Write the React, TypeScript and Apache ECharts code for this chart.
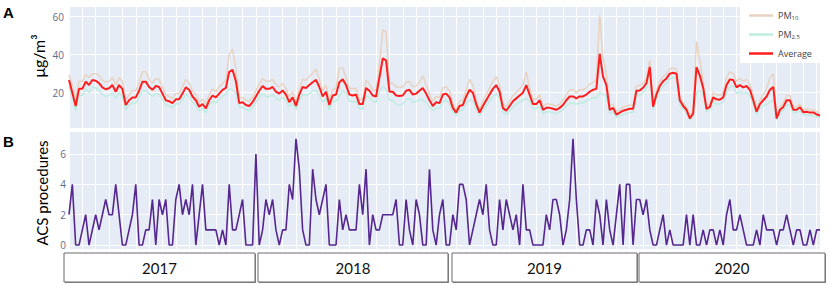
import React, { useEffect, useRef } from 'react';
import * as echarts from 'echarts';

const average = [
  26.7, 20, 13, 22, 22, 25.8, 24, 26.7, 26.3, 25, 22.8, 21.8, 22.3, 24, 20.5, 24, 22, 13.5, 16, 17.5,
  17.5, 21, 25.8, 25.8, 23, 21.5, 23.5, 23, 19.5, 16, 15.5, 14.5, 16.5, 16.5, 19.5, 22.8, 21.5, 18, 16, 12.6,
  14, 11.7, 16, 18.5, 17.5, 19.5, 21.5, 22.5, 31, 32, 26, 14.5, 15, 13.5, 13, 15, 18, 21, 23.5, 22,
  22, 23, 20.5, 19.5, 21.2, 19, 15, 17.5, 13, 19, 23, 22.5, 24, 25.5, 26.7, 23, 18, 20.5, 13.5, 18.5,
  19, 25.5, 27, 24, 19, 18.5, 19, 14, 14, 22.5, 21, 18.5, 18, 28, 38, 37, 20.5, 20.5, 18.5, 18.3,
  18.5, 21, 21.5, 19, 19.5, 21, 22.5, 19.5, 16, 13, 15, 14.5, 19, 19.5, 17.5, 12, 9.5, 13, 13.5, 18,
  21.5, 20, 14, 9.5, 13, 16, 19, 22, 24, 20.5, 12, 10.5, 13, 15.5, 17, 18.5, 20, 24, 19, 14,
  14, 16, 11, 12, 12, 11.5, 11, 12, 13.5, 16, 18, 18, 17, 18, 18, 19, 20.5, 21.5, 22, 40.5,
  28.5, 24, 11, 12, 8.5, 9.5, 10.5, 11, 11.5, 11.5, 21, 21.2, 22.6, 25, 33.5, 12.6, 19, 23.5, 26, 27.5,
  30, 30.5, 30, 16, 13, 11, 6.5, 9, 33.5, 29, 22.5, 11.5, 12.5, 17.5, 16.5, 16.3, 17.5, 24, 27, 26.7,
  22.8, 24, 22.8, 23.5, 21.5, 16, 10, 14, 16, 18, 21.5, 23, 6.5, 11, 12.5, 16, 16, 11, 11, 12.3,
  9.7, 10, 9.5, 9.6, 8.5, 8,
];

const pm10 = [
  29.5, 24, 17, 26, 26, 29.5, 28, 30, 30, 29, 26.5, 25.5, 26, 28, 24, 28, 26, 16, 19, 21,
  21, 25, 31, 31, 27, 25, 27.5, 27, 23, 19, 18, 17, 19.5, 19.5, 23, 27, 25, 21, 19, 15,
  16.5, 14, 19, 22, 20.5, 23, 25, 26.5, 40, 43, 32, 17, 17.5, 16, 15.5, 17.5, 21, 24.5, 27.5, 26,
  26, 27, 24, 23, 25, 22, 17.5, 20.5, 15, 22, 27, 26.5, 28.5, 30, 32.5, 27, 21, 24, 16, 21.5,
  22.5, 33, 33, 28, 22.5, 22, 22.5, 16.5, 16.5, 26.5, 24.5, 21.5, 21, 35, 53, 52, 25, 25, 23, 23,
  23, 25.5, 26, 23, 23.5, 25.5, 29, 24, 19.5, 15.5, 18, 17.5, 22.5, 23, 21, 14, 11, 15.5, 16, 21.5,
  27, 24, 16.5, 11, 15.5, 19, 22.5, 26, 28.5, 24, 14, 12.5, 15.5, 18.5, 20, 22, 24, 31, 22.5, 16.5,
  16.5, 19, 13, 14, 14, 13.5, 13, 14, 16, 19, 21.5, 21.5, 20, 21.5, 21.5, 22.5, 24.5, 25.5, 27, 61,
  38, 30, 13, 14, 10, 11, 12.5, 13, 13.5, 13.5, 23.5, 24, 25, 27.5, 37, 14, 21, 26, 28.5, 30,
  32.5, 33, 32.5, 18, 14.5, 12.5, 7.5, 10.5, 47, 37, 26, 13, 14, 20, 19, 18.5, 20, 28, 31, 30,
  26, 27.5, 26, 27, 24.5, 18.5, 11.5, 16, 19, 22, 28, 30, 7.5, 12.5, 14.5, 18.5, 18.5, 12.5, 12.5, 14,
  11, 11.5, 11, 11, 10, 9,
];

const pm25 = [
  23.5, 17, 10.5, 18.5, 18.5, 22, 20, 23, 22.5, 21, 19, 18, 18.5, 20, 17, 20, 18, 11, 13.5, 14.5,
  14.5, 17.5, 21, 21, 19.5, 18, 19.5, 19, 16.5, 13.5, 13, 12, 14, 14, 16.5, 19, 18, 15, 13.5, 10.5,
  11.5, 9.5, 13.5, 15.5, 14.5, 16.5, 18, 19, 22, 21.5, 20, 12, 12.5, 11, 10.5, 12.5, 15, 17.5, 19.5, 18,
  18, 19, 17, 16, 17.5, 16, 12.5, 14.5, 11, 16, 19, 18.5, 19.5, 21, 21, 19, 15, 17, 11, 15.5,
  15.5, 18, 21, 20, 15.5, 15, 15.5, 11.5, 11.5, 18.5, 17.5, 15.5, 15, 21, 23, 22, 16, 16, 14, 13.5,
  14, 16.5, 17, 15, 15.5, 16.5, 16, 15, 12.5, 10.5, 12, 11.5, 15.5, 16, 14, 10, 8, 10.5, 11, 14.5,
  16, 16, 11.5, 8, 10.5, 13, 15.5, 18, 19.5, 17, 10, 8.5, 10.5, 12.5, 14, 15, 16, 17, 15.5, 11.5,
  11.5, 13, 9, 10, 10, 9.5, 9, 10, 11, 13, 14.5, 14.5, 14, 14.5, 14.5, 15.5, 16.5, 17.5, 17, 20,
  19, 18, 9, 10, 7, 8, 8.5, 9, 9.5, 9.5, 18.5, 18.5, 20, 22.5, 30, 11, 17, 21, 23.5, 25,
  27.5, 28, 27.5, 14, 11.5, 9.5, 5.5, 7.5, 20, 21, 19, 10, 11, 15, 14, 14, 15, 20, 23, 23.5,
  19.5, 20.5, 19.5, 20, 18.5, 13.5, 8.5, 12, 13, 14, 15, 16, 5.5, 9.5, 10.5, 13.5, 13.5, 9.5, 9.5, 10.5,
  8.5, 8.5, 8, 8, 7, 7,
];

const acs = [
  2, 4, 0, 0, 1, 2, 0, 1, 2, 1, 2, 3, 2, 2, 4, 2, 0, 0, 1, 2,
  4, 0, 0, 1, 1, 3, 0, 3, 2, 3, 0, 0, 3, 4, 2, 3, 2, 4, 0, 2,
  4, 1, 1, 1, 1, 0, 1, 0, 4, 1, 1, 2, 3, 0, 0, 0, 6, 0, 1, 3,
  2, 3, 1, 0, 1, 1, 4, 3, 7, 5, 1, 0, 0, 5, 3, 2, 3, 4, 0, 0,
  0, 3, 1, 2, 1, 1, 1, 4, 2, 5, 0, 2, 1, 1, 2, 2, 2, 2, 3, 0,
  0, 3, 1, 0, 3, 2, 0, 0, 5, 1, 0, 2, 3, 0, 0, 2, 1, 4, 4, 3,
  0, 1, 2, 3, 2, 4, 1, 0, 0, 3, 1, 3, 2, 1, 2, 0, 4, 1, 1, 0,
  0, 0, 0, 2, 1, 3, 3, 2, 0, 1, 3, 7, 3, 0, 0, 1, 1, 0, 3, 2,
  0, 3, 1, 0, 2, 4, 0, 4, 4, 0, 3, 3, 2, 3, 1, 0, 0, 1, 2, 0,
  1, 0, 0, 0, 0, 2, 0, 2, 0, 0, 1, 0, 1, 1, 0, 1, 0, 2, 3, 1,
  1, 2, 1, 0, 0, 0, 1, 0, 2, 1, 1, 1, 0, 1, 1, 2, 1, 0, 1, 1,
  0, 0, 1, 0, 1, 1,
];

const weeks = average.map((_, i) => String(i + 1));
const years = ['2017', '2018', '2019', '2020'];
const pmTicks = [20, 40, 60];
const acsTicks = [0, 2, 4, 6];

export default function App() {
  const ref = useRef<HTMLDivElement>(null);
  useEffect(() => {
    const chart = echarts.init(ref.current!, null, { renderer: 'svg' });
    const plotBg = '#e5ecf6';
    const tickColor = '#5d6d89';
    const xAxisBase = {
      type: 'category',
      data: weeks,
      boundaryGap: false,
      axisLine: { show: false },
      axisTick: { show: false },
      axisLabel: { show: false },
      splitLine: { show: true, interval: 3, lineStyle: { color: '#ffffff', width: 1 } },
    };
    const boxes = [
      [64, 191],
      [258, 190],
      [452, 185],
      [639, 186],
    ];
    const yearGraphics: any[] = [];
    boxes.forEach((b, i) => {
      yearGraphics.push({
        type: 'rect',
        shape: { x: b[0] + 1, y: 254, width: b[1], height: 29 },
        style: { fill: '#8a8a8a' },
        z: 1,
      });
      yearGraphics.push({
        type: 'rect',
        shape: { x: b[0], y: 253, width: b[1], height: 29 },
        style: { fill: '#ffffff', stroke: '#6a6a6a', lineWidth: 1 },
        z: 2,
      });
      yearGraphics.push({
        type: 'text',
        x: b[0] + b[1] / 2,
        y: 268,
        style: {
          text: years[i],
          fill: '#111',
          font: '15px Lato, "Open Sans", sans-serif',
          textAlign: 'center',
          textVerticalAlign: 'middle',
        },
        z: 3,
      });
    });

    chart.setOption({
      animation: false,
      backgroundColor: '#ffffff',
      grid: [
        { left: 69, top: 7, width: 751, height: 121, show: true, backgroundColor: plotBg, borderWidth: 0 },
        { left: 69, top: 132, width: 751, height: 117, show: true, backgroundColor: plotBg, borderWidth: 0 },
      ],
      xAxis: [
        { ...xAxisBase, gridIndex: 0 },
        { ...xAxisBase, gridIndex: 1 },
      ],
      yAxis: [
        {
          type: 'value',
          gridIndex: 0,
          min: 1.4,
          max: 65.1,
          axisLine: { show: false },
          axisTick: { show: false, customValues: pmTicks },
          axisLabel: { customValues: pmTicks, color: tickColor, fontSize: 10, margin: 5, fontFamily: '"Open Sans", sans-serif' },
          splitLine: { show: true, lineStyle: { color: '#ffffff', width: 1 } },
        },
        {
          type: 'value',
          gridIndex: 1,
          min: -0.26,
          max: 7.45,
          axisLine: { show: false },
          axisTick: { show: false, customValues: acsTicks },
          axisLabel: { customValues: acsTicks, color: tickColor, fontSize: 10, margin: 3, fontFamily: '"Open Sans", sans-serif' },
          splitLine: { show: true, lineStyle: { color: '#ffffff', width: 1 } },
        },
      ],
      legend: {
        orient: 'vertical',
        left: 744,
        top: 6,
        icon: 'rect',
        itemWidth: 24,
        itemHeight: 2.5,
        itemGap: 9,
        z: 20,
        data: ['PM10', 'PM2.5', 'Average'],
        formatter: (name: string) =>
          name === 'PM10' ? 'PM{sub|10}' : name === 'PM2.5' ? 'PM{sub|2.5}' : name,
        textStyle: {
          fontSize: 9,
          color: '#444',
          fontFamily: '"Open Sans", sans-serif',
          rich: { sub: { fontSize: 6, padding: [5, 0, 0, 0], color: '#444' } },
        },
      },
      graphic: [
        { type: 'rect', shape: { x: 740, y: 0, width: 89, height: 63 }, style: { fill: '#ffffff' }, z: 10 },
        {
          type: 'text',
          x: 3,
          y: 5,
          style: { text: 'A', font: 'bold 15px Arial, sans-serif', fill: '#000' },
        },
        {
          type: 'text',
          x: 3,
          y: 134,
          style: { text: 'B', font: 'bold 15px Arial, sans-serif', fill: '#000' },
        },
        {
          type: 'text',
          x: 38,
          y: 56,
          rotation: Math.PI / 2,
          style: {
            text: 'μg/m³',
            font: '16px Lato, "Open Sans", sans-serif',
            fill: '#000',
            textAlign: 'center',
            textVerticalAlign: 'middle',
          },
        },
        {
          type: 'text',
          x: 42,
          y: 193,
          rotation: Math.PI / 2,
          style: {
            text: 'ACS procedures',
            font: '15px Lato, "Open Sans", sans-serif',
            fill: '#000',
            textAlign: 'center',
            textVerticalAlign: 'middle',
          },
        },
        ...yearGraphics,
      ],
      series: [
        {
          name: 'PM10',
          type: 'line',
          xAxisIndex: 0,
          yAxisIndex: 0,
          data: pm10,
          symbol: 'none',
          lineStyle: { color: '#e8d3c2', width: 1.5 },
          itemStyle: { color: '#e8d3c2' },
          z: 2,
        },
        {
          name: 'PM2.5',
          type: 'line',
          xAxisIndex: 0,
          yAxisIndex: 0,
          data: pm25,
          symbol: 'none',
          lineStyle: { color: '#bfece0', width: 1.5 },
          itemStyle: { color: '#bfece0' },
          z: 3,
        },
        {
          name: 'Average',
          type: 'line',
          xAxisIndex: 0,
          yAxisIndex: 0,
          data: average,
          symbol: 'none',
          lineStyle: { color: '#ff1e1e', width: 2 },
          itemStyle: { color: '#ff1e1e' },
          z: 4,
        },
        {
          name: 'ACS',
          type: 'line',
          xAxisIndex: 1,
          yAxisIndex: 1,
          data: acs,
          symbol: 'none',
          lineStyle: { color: '#56278f', width: 1.6 },
          itemStyle: { color: '#56278f' },
          z: 4,
        },
      ],
    });
    return () => chart.dispose();
  }, []);
  return <div ref={ref} style={{ position: 'absolute', left: 0, top: 0, width: 829, height: 285 }} />;
}
